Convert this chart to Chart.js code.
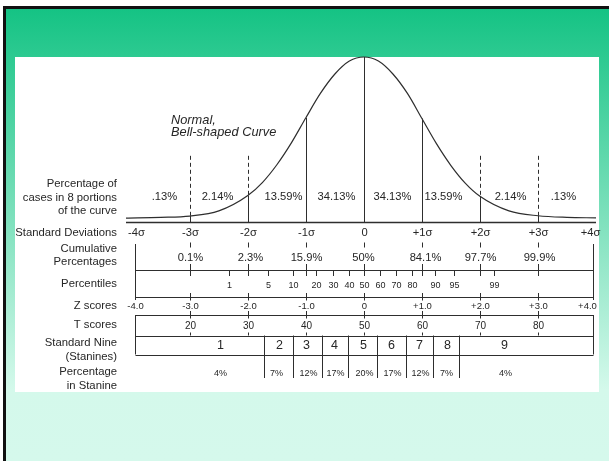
<!DOCTYPE html>
<html><head><meta charset="utf-8">
<script src="https://cdn.jsdelivr.net/npm/chart.js@4"></script>
<style>
html,body{margin:0;padding:0;width:609px;height:461px;overflow:hidden;background:#fff;}
#frame{position:absolute;left:3px;top:6px;width:606px;height:455px;background:#111;}
#bg{position:absolute;left:6px;top:9px;width:603px;height:452px;background:linear-gradient(to bottom,#15c384 0px,#d4f9eb 381px,#d5f9ec 452px);}
#panel{position:absolute;left:15px;top:57px;width:584px;height:335px;background:#fff;}
#c{position:absolute;left:0;top:0;width:609px;height:461px;}
</style></head>
<body>
<div id="frame"></div><div id="bg"></div><div id="panel"></div>
<canvas id="c" width="609" height="461"></canvas>
<script>
// ---- data ----
const curveZ = [-4.1,-3.5,-3,-2.5,-2,-1.75,-1.5,-1.25,-1,-0.75,-0.5,-0.25,0,0.25,0.5,0.75,1,1.25,1.5,1.75,2,2.5,3,3.5,4.0];
const curveH = [0.006,0.010,0.018,0.05,0.145,0.225,0.335,0.47,0.625,0.775,0.895,0.975,1,0.975,0.895,0.775,0.62,0.465,0.33,0.22,0.14,0.05,0.02,0.01,0.007];
const sdLines = [-3,-2,-1,0,1,2,3];
const dashedLines = [-3,-2,2,3];
const curvePctLabels = ['.13%','2.14%','13.59%','34.13%','34.13%','13.59%','2.14%','.13%'];
const curvePctPos = [-3.44,-2.53,-1.39,-0.48,0.49,1.36,2.51,3.43];
const sdLabels = ['-4σ','-3σ','-2σ','-1σ','0','+1σ','+2σ','+3σ','+4σ'];
const sdLabelPos = [-3.93,-3,-2,-1,0,1,2,3,3.89];
const cumLabels = ['0.1%','2.3%','15.9%','50%','84.1%','97.7%','99.9%'];
const cumPos = [-3,-1.96,-1,-0.02,1.05,2,3.02];
const pctileLabels = ['1','5','10','20','30','40','50','60','70','80','90','95','99'];
const pctilePos = [-2.32,-1.65,-1.23,-0.83,-0.53,-0.26,0,0.27,0.55,0.83,1.22,1.56,2.25];
const zLabels = ['-4.0','-3.0','-2.0','-1.0','0','+1.0','+2.0','+3.0','+4.0'];
const zLabelPos = [-3.94,-3,-2,-1,0,1,2,3,3.84];
const tLabels = ['20','30','40','50','60','70','80'];
const tPos = [-3,-2,-1,0,1,2,3];
const stanineDividers = [-1.72,-1.22,-0.73,-0.28,0.22,0.72,1.19,1.64];
const stanineLabels = ['1','2','3','4','5','6','7','8','9'];
const stanineLabelPos = [-2.48,-1.46,-1.0,-0.51,-0.02,0.46,0.95,1.43,2.42];
const staninePct = ['4%','7%','12%','17%','20%','17%','12%','7%','4%'];
const staninePctPos = [-2.48,-1.51,-0.97,-0.5,0,0.48,0.97,1.42,2.43];
const boxEdge = 3.94;
const dashTop = 0.39;
const yMin = -0.0247;

// ---- layout (pixel rows) ----
const L = {
  labelRight:117, curvePctY:197, sdY:233, cumTick:[242.5,247.5], cumY:257.5, cumTick2:[264,270],
  pTop:270, pBot:296.5, pTickBelow:6, pY:286, crossA:[293,300.5], outerA:[244,300],
  zY:306, tTop:315, tCross:[311,318.5], tY:326, tBot:335.5, tSmall:3,
  sBot:354.5, sDivBot:378, sY:346, spY:373.5, outerB:[315,354.5]
};
const leftLabels = [
  ['Percentage of',184],['cases in 8 portions',197.5],['of the curve',211],
  ['Standard Deviations',233],['Cumulative',249],['Percentages',261.5],
  ['Percentiles',284],['Z scores',306],['T scores',325],
  ['Standard Nine',342.5],['(Stanines)',357],['Percentage',372],['in Stanine',386]
];
const FONT = '"Liberation Sans", Arial, sans-serif';
const LINE = '#2e2e2e';
const TXT = '#262626';

const overlay = {
  id:'overlay',
  afterDatasetsDraw(chart){
    const ctx = chart.ctx;
    const X = v => Math.round(chart.scales.x.getPixelForValue(v)) + 0.5;
    const Y = v => chart.scales.y.getPixelForValue(v);
    const hAt = z => curveH[curveZ.indexOf(z)];
    ctx.save();
    ctx.strokeStyle = LINE; ctx.lineWidth = 1;
    const seg = (x1,y1,x2,y2) => { ctx.beginPath(); ctx.moveTo(x1,y1); ctx.lineTo(x2,y2); ctx.stroke(); };
    const hl = (y,x1,x2) => { const yy = Math.round(y)+0.5; seg(x1,yy,x2,yy); };
    const vl = (x,y1,y2) => seg(x,y1,x,y2);
    const axisY = Y(yMin);
    ctx.lineWidth = 1.3;
    seg(chart.scales.x.getPixelForValue(-4.1), Math.round(axisY)-0.5, chart.scales.x.getPixelForValue(4.0), Math.round(axisY)-0.5);
    ctx.lineWidth = 1;
    sdLines.forEach(z => vl(X(z), Y(hAt(z)), axisY));
    ctx.setLineDash([4,3]);
    dashedLines.forEach(z => vl(X(z), Y(dashTop), Y(hAt(z))));
    ctx.setLineDash([]);
    sdLines.forEach(z => { vl(X(z), L.cumTick[0], L.cumTick[1]); vl(X(z), L.cumTick2[0], L.cumTick2[1]); });
    [-boxEdge, boxEdge].forEach(z => { vl(X(z), L.outerA[0], L.outerA[1]); vl(X(z), L.outerB[0], L.outerB[1]); });
    const xl = X(-boxEdge), xr = X(boxEdge);
    hl(L.pTop, xl, xr); hl(L.pBot, xl, xr);
    pctilePos.forEach(z => vl(X(z), L.pTop, L.pTop + L.pTickBelow));
    sdLines.forEach(z => vl(X(z), L.pTop, L.pTop + L.pTickBelow));
    sdLines.forEach(z => vl(X(z), L.crossA[0], L.crossA[1]));
    hl(L.tTop, xl, xr); hl(L.tBot, xl, xr);
    sdLines.forEach(z => { vl(X(z), L.tCross[0], L.tCross[1]); vl(X(z), L.tBot - L.tSmall, L.tBot); });
    hl(L.sBot, xl, xr);
    stanineDividers.forEach(z => vl(X(z), L.tBot, L.sDivBot));

    ctx.fillStyle = TXT; ctx.textBaseline = 'middle';
    const txt = (s, x, y, size, align='center', style='') => { ctx.font = style + size + 'px ' + FONT; ctx.textAlign = align; ctx.fillText(s, x, y); };
    leftLabels.forEach(([s,y]) => txt(s, L.labelRight, y, 11.3, 'right'));
    curvePctLabels.forEach((s,i) => txt(s, X(curvePctPos[i]), L.curvePctY, 11.2));
    sdLabels.forEach((s,i) => txt(s, X(sdLabelPos[i]), L.sdY, 11.2));
    cumLabels.forEach((s,i) => txt(s, X(cumPos[i]), L.cumY, 11.2));
    pctileLabels.forEach((s,i) => txt(s, X(pctilePos[i]), L.pY, 9));
    zLabels.forEach((s,i) => txt(s, X(zLabelPos[i]), L.zY, 9.5));
    tLabels.forEach((s,i) => txt(s, X(tPos[i]), L.tY, 10));
    stanineLabels.forEach((s,i) => txt(s, X(stanineLabelPos[i]), L.sY, 12.5));
    staninePct.forEach((s,i) => txt(s, X(staninePctPos[i]), L.spY, 9));
    txt('Normal,', 171, 120.5, 12.8, 'left', 'italic ');
    txt('Bell-shaped Curve', 171, 132.5, 12.8, 'left', 'italic ');
    ctx.restore();
  }
};

new Chart(document.getElementById('c'), {
  type:'line',
  data:{ datasets:[{
    data: curveZ.map((z,i)=>({x:z, y:curveH[i]})),
    borderColor:'#2e2e2e', borderWidth:1.2, pointRadius:0, fill:false,
    cubicInterpolationMode:'monotone', clip:false
  }]},
  options:{
    responsive:false, animation:false, devicePixelRatio:1,
    layout:{padding:{left:126, right:13, top:57, bottom:238}},
    plugins:{legend:{display:false}, tooltip:{enabled:false}},
    scales:{
      x:{type:'linear', display:false, min:-4.1, max:4.0},
      y:{display:false, min:yMin, max:1}
    }
  },
  plugins:[overlay]
});
</script>
</body></html>
